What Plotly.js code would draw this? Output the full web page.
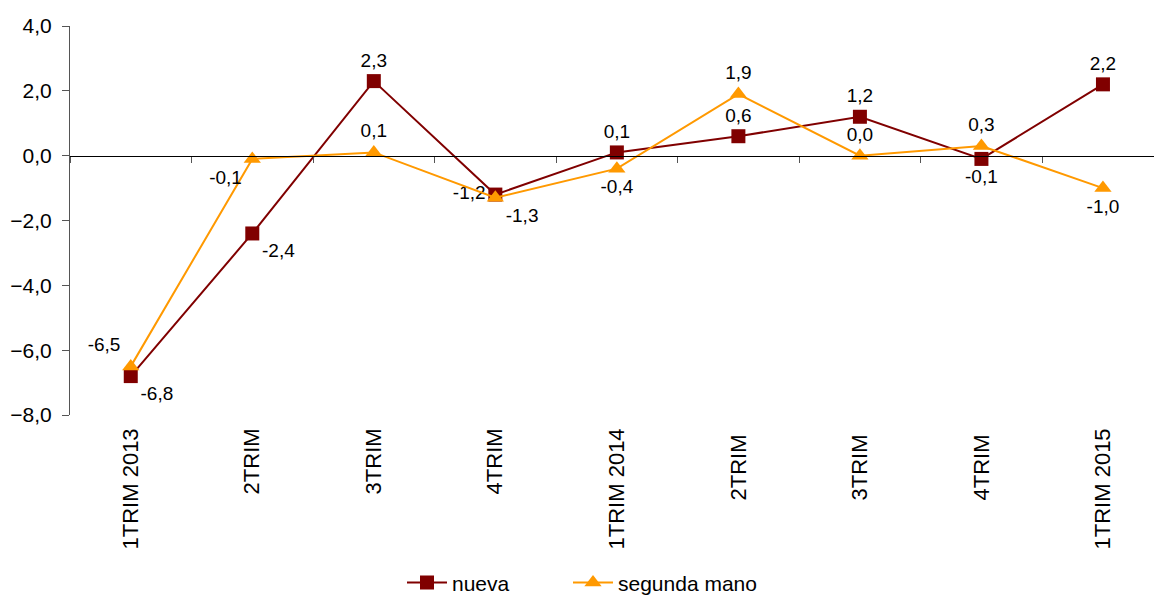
<!DOCTYPE html>
<html>
<head>
<meta charset="utf-8">
<script src="https://cdn.plot.ly/plotly-3.0.1.min.js"></script>
<style>html,body{margin:0;padding:0;overflow:hidden;background:#fff}</style>
</head>
<body>
<div id="chart" style="width:1154px;height:597px"></div>
<script>
var categories = ["1TRIM 2013","2TRIM","3TRIM","4TRIM","1TRIM 2014","2TRIM ","3TRIM ","4TRIM ","1TRIM 2015"];
var nueva = [-6.8, -2.4, 2.3, -1.2, 0.1, 0.6, 1.2, -0.1, 2.2];
var segundaMano = [-6.5, -0.1, 0.1, -1.3, -0.4, 1.9, 0.0, 0.3, -1.0];
var nuevaPos = ["bottom right","bottom right","top center","middle left","top center","top center","top center","bottom center","top center"];
var segundaPos = ["top left","bottom left","top center","bottom right","bottom center","top center","top center","top center","bottom center"];

function fmt(v){ return v.toFixed(1).replace('.', ','); }

var font = "Liberation Sans, Arial, sans-serif";
var traces = [
  {
    x: categories, y: nueva, name: "nueva", type: "scatter", mode: "lines+markers+text",
    xaxis: "x", yaxis: "y", legend: "legend",
    line: {color: "#800000", width: 2},
    marker: {symbol: "square", size: 14, color: "#800000"},
    text: nueva.map(fmt), textposition: nuevaPos,
    textfont: {family: font, size: 19, color: "#000"},
    cliponaxis: false
  },
  {
    x: categories, y: segundaMano, name: "segunda mano", type: "scatter", mode: "lines+markers+text",
    xaxis: "x2", yaxis: "y", legend: "legend2",
    line: {color: "#FF9900", width: 2},
    marker: {symbol: "triangle-up", size: 15, color: "#FF9900"},
    text: segundaMano.map(fmt), textposition: segundaPos,
    textfont: {family: font, size: 19, color: "#000"},
    cliponaxis: false
  }
];

var xr = [-0.5, 8.42];
var legFont = {family: font, size: 21, color: "#000"};
var layout = {
  width: 1154, height: 597,
  margin: {l: 70, r: 0, t: 26, b: 182},
  paper_bgcolor: "#fff", plot_bgcolor: "#fff",
  separators: ",.",
  font: {family: font, size: 20, color: "#000"},
  showlegend: true,
  legend: {orientation: "h", xref: "container", x: 402/1154, xanchor: "left",
           yref: "container", y: 0.0235, yanchor: "middle", font: legFont, itemwidth: 40},
  legend2: {orientation: "h", xref: "container", x: 568/1154, xanchor: "left",
           yref: "container", y: 0.0235, yanchor: "middle", font: legFont, itemwidth: 40},
  xaxis: {
    type: "category", range: xr, showgrid: false, zeroline: false, showline: false,
    ticks: "", tickangle: -90, tickfont: {family: font, size: 22, color: "#000"},
    ticklabelstandoff: 8
  },
  xaxis2: {
    type: "category", range: xr, overlaying: "x", anchor: "free", position: 8/12,
    side: "bottom", showgrid: false, zeroline: false, showline: true, linecolor: "#000", linewidth: 1,
    ticks: "outside", tickson: "boundaries", ticklen: 6, tickcolor: "#555", showticklabels: false
  },
  yaxis: {
    range: [-8, 4], dtick: 2, tickformat: ".1f", showgrid: false, zeroline: false,
    showline: true, linecolor: "#555", linewidth: 1, ticks: "outside", ticklen: 7, tickcolor: "#555",
    tickfont: {family: font, size: 21, color: "#000"}, ticklabelstandoff: 6
  }
};
Plotly.newPlot("chart", traces, layout, {displayModeBar: false, staticPlot: true});
</script>
</body>
</html>
